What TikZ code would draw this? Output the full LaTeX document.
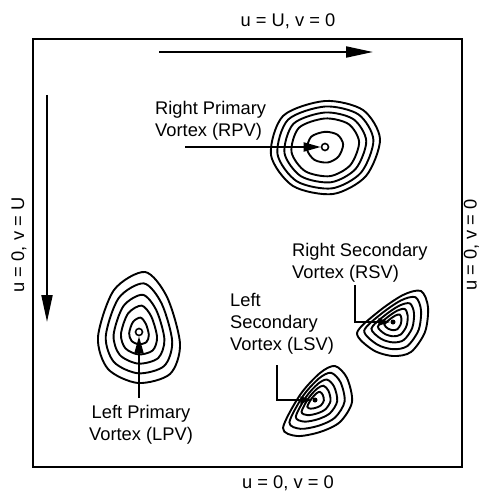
\documentclass[tikz,border=0pt]{standalone}
\usepackage{fontspec}
\setmainfont{Liberation Sans}
\usetikzlibrary{arrows.meta}
\begin{document}
\begin{tikzpicture}[x=1pt,y=-1pt,
  lbl/.style={font=\fontsize{18.3}{22}\selectfont, inner sep=0pt},
  contour/.style={line width=1.9pt},
  bigarrow/.style={line width=2pt, -{Triangle[length=27pt,width=11pt]}},
  midarrow/.style={line width=2pt, -{Triangle[length=17pt,width=9pt]}},
  smallarrow/.style={line width=2pt, -{Triangle[length=12pt,width=7pt]}},
  hub/.style={circle, draw, line width=1.6pt, fill=white, minimum size=7pt, inner sep=0pt},
  hubdot/.style={circle, fill=black, minimum size=5pt, inner sep=0pt}]
\clip (0,0) rectangle (480,492);
% box
\draw[line width=2.2pt] (33,39) rectangle (462,467);
% boundary labels
\node[lbl] (top) at (288,21) {u = U, v = 0};
\node[lbl] (bottom) at (288,483) {u = 0, v = 0};
\node[lbl, rotate=90] (left) at (19,245) {u = 0, v = U};
\node[lbl, rotate=90] (right) at (471.5,245) {u = 0, v = 0};
% lid / wall arrows
\coordinate (ta1) at (159,52);
\coordinate (ta2) at (373,52);
\draw[bigarrow] (ta1) -- (ta2);
\coordinate (la1) at (47,95);
\coordinate (la2) at (47,322);
\draw[bigarrow] (la1) -- (la2);
% RPV
\foreach \s in {1,0.88,0.75,0.62,0.33}
  \draw[contour, shift={(325,147)}, scale=\s] plot[smooth cycle] coordinates {(0,-46) (38,-37) (55,-8) (41,29) (8,47) (-32,39) (-54,8) (-42,-31)};
\node[hub] (rpv) at (325,147) {};
% LPV
\foreach \s in {1,0.81,0.62,0.44,0.24}
  \draw[contour, shift={(139,332)}, scale=\s] plot[smooth cycle] coordinates {(6,-60) (-25,-42) (-41,5) (-31,37) (-1,51) (31,42) (41,12) (28,-35)};
\node[hub] (lpv) at (139,332) {};
% RSV
\foreach \s in {1,0.8,0.6,0.42,0.24}
  \draw[contour, shift={(393,322)}, scale=\s] plot[smooth cycle] coordinates {(-36,11) (-15,-10) (10,-27) (28,-31) (35,-15) (32,10) (18,30) (0,34) (-20,28)};
\node[hubdot] (rsv) at (393,322) {};
% LSV
\foreach \s in {1,0.8,0.6,0.42,0.24}
  \draw[contour, shift={(315,400)}, scale=\s] plot[smooth cycle] coordinates {(-32,28) (-15,-5) (5,-27) (20,-34) (32,-22) (37,2) (25,22) (5,32) (-18,36)};
\node[hubdot] (lsv) at (315,400) {};
% labels
\node[lbl, align=left, anchor=west] (rpvl) at (155,121) {Right Primary\\Vortex (RPV)};
\node[lbl, align=center] (lpvl) at (141,425) {Left Primary\\Vortex (LPV)};
\node[lbl, align=left, anchor=west] (rsvl) at (292,263) {Right Secondary\\Vortex (RSV)};
\node[lbl, align=left, anchor=west] (lsvl) at (230,324) {Left\\Secondary\\Vortex (LSV)};
% pointers
\coordinate (rpvs) at (185,147);
\draw[midarrow] (rpvs) -- (rpv);
\coordinate (lpvs) at (139,398);
\draw[midarrow] (lpvs) -- (lpv);
\coordinate (rsvs) at (355,285);
\draw[smallarrow] (rsvs) |- (rsv);
\coordinate (lsvs) at (277,365);
\draw[smallarrow] (lsvs) |- (lsv);
\end{tikzpicture}
\end{document}
